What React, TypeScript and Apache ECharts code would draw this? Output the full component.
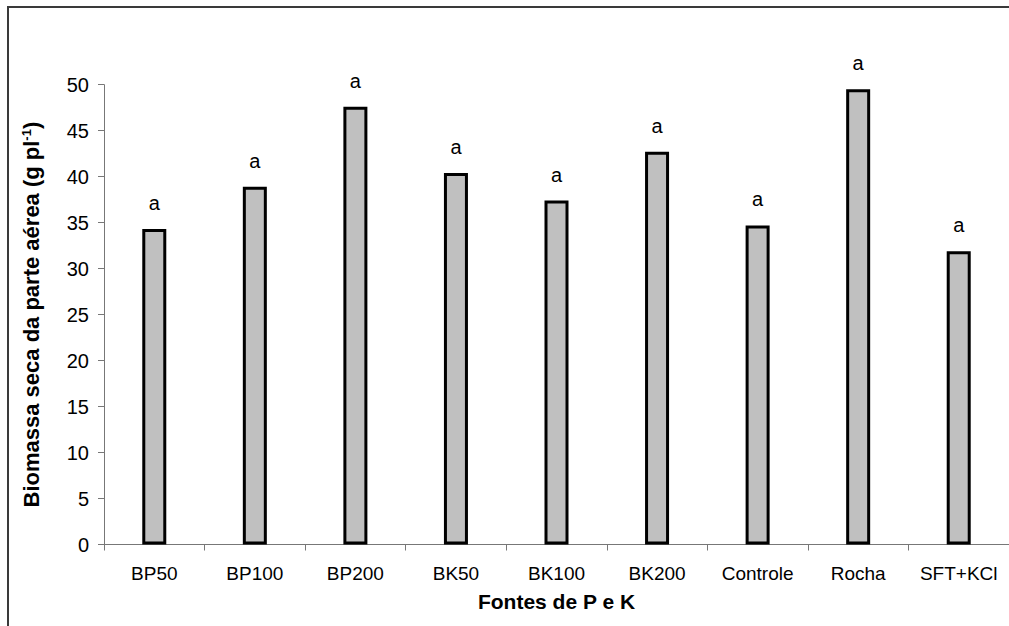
import React, { useEffect, useRef } from "react";
import * as echarts from "echarts";

const categories = ["BP50", "BP100", "BP200", "BK50", "BK100", "BK200", "Controle", "Rocha", "SFT+KCl"];
const values = [34.3, 38.9, 47.6, 40.4, 37.4, 42.7, 34.7, 49.5, 31.9];
const letters = ["a", "a", "a", "a", "a", "a", "a", "a", "a"];
const yTicks = { min: 0, max: 50, interval: 5 };

export default function App() {
  const ref = useRef<HTMLDivElement>(null);
  useEffect(() => {
    if (!ref.current) return;
    const chart = echarts.init(ref.current, null, { renderer: "svg" });
    const font = "Liberation Sans, Arial, sans-serif";
    chart.setOption({
      animation: false,
      backgroundColor: "#ffffff",
      grid: { left: 104, top: 84.7, width: 909, bottom: 81.5, containLabel: false },
      graphic: [
        {
          type: "rect",
          shape: { x: 8, y: 7, width: 1200, height: 800 },
          style: { fill: "none", stroke: "#3a3a3a", lineWidth: 2 },
          silent: true,
        },
      ],
      xAxis: {
        type: "category",
        data: categories,
        name: "Fontes de P e K",
        nameLocation: "middle",
        nameGap: 46,
        nameTextStyle: { fontFamily: font, fontSize: 21, fontWeight: "bold", color: "#000" },
        axisLine: { lineStyle: { color: "#777", width: 1 } },
        axisTick: { show: true, length: 6, lineStyle: { color: "#777" } },
        axisLabel: { fontFamily: font, fontSize: 19, color: "#000", margin: 19, interval: 0 },
        splitLine: { show: false },
      },
      yAxis: {
        type: "value",
        min: yTicks.min,
        max: yTicks.max,
        interval: yTicks.interval,
        name: "{n|Biomassa seca da parte aérea (g pl}{s|-1}{n|)}",
        nameLocation: "middle",
        nameGap: 61,
        nameTextStyle: {
          rich: {
            n: { fontFamily: font, fontSize: 22, fontWeight: "bold", color: "#000" },
            s: { fontFamily: font, fontSize: 13, fontWeight: "bold", color: "#000", verticalAlign: "top", padding: [0, 0, 10, 0] },
          },
        },
        axisLine: { show: true, lineStyle: { color: "#777", width: 1 } },
        axisTick: { show: true, length: 6, lineStyle: { color: "#777" } },
        axisLabel: { fontFamily: font, fontSize: 20, color: "#000", margin: 15 },
        splitLine: { show: false },
      },
      series: [
        {
          type: "bar",
          data: values,
          barWidth: 24,
          itemStyle: { color: "#c0c0c0", borderColor: "#000", borderWidth: 3 },
          label: {
            show: true,
            position: "top",
            distance: 16,
            formatter: (p: any) => letters[p.dataIndex],
            fontFamily: font,
            fontSize: 20,
            color: "#000",
          },
        },
      ],
    });
    return () => chart.dispose();
  }, []);
  return <div ref={ref} style={{ position: "absolute", left: 0, top: 0, width: 1009, height: 626 }} />;
}
